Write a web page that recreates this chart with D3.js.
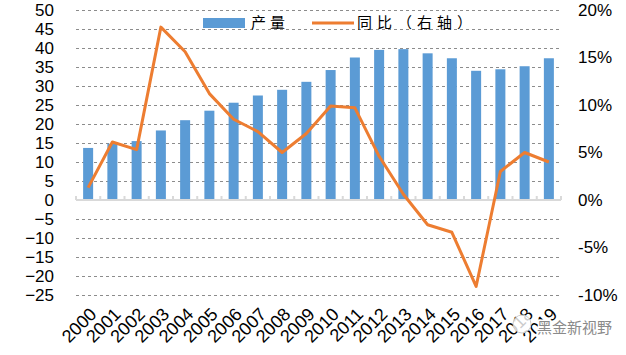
<!DOCTYPE html>
<html><head><meta charset="utf-8">
<script src="https://cdn.jsdelivr.net/npm/d3@7"></script>
<style>
html,body{margin:0;padding:0;background:#fff;}
svg{display:block;font-family:"Liberation Sans",Arial,sans-serif;}
</style></head>
<body>
<svg id="chart" width="626" height="355"></svg>
<script>
const years = ["2000","2001","2002","2003","2004","2005","2006","2007","2008","2009","2010","2011","2012","2013","2014","2015","2016","2017","2018","2019"];
const output = [13.7,14.8,15.5,18.3,21.0,23.5,25.6,27.5,29.0,31.1,34.2,37.5,39.5,39.7,38.6,37.3,34.0,34.4,35.2,37.3];
const yoy = [1.3,6.1,5.3,18.2,15.6,11.2,8.5,7.2,5.0,7.0,9.9,9.7,4.6,0.6,-2.6,-3.4,-9.1,3.0,5.0,4.0];
const leftTicks = [-25,-20,-15,-10,-5,0,5,10,15,20,25,30,35,40,45,50];
const rightTicks = [-10,-5,0,5,10,15,20];
const legendLabels = ["产量","同比（右轴）"];

const svg = d3.select("#chart");
const L = 76, R = 561, T = 10, B = 295;
const x = d3.scaleBand().domain(years).range([L, R]).padding(0);
const yL = d3.scaleLinear().domain([-25, 50]).range([B, T]);
const yR = d3.scaleLinear().domain([-10, 20]).range([B, T]);
const blue = "#5B9BD5", orange = "#ED7D31";

// gridlines
svg.append("g").selectAll("line").data(leftTicks.filter(d => d !== 0)).join("line")
  .attr("x1", L).attr("x2", R)
  .attr("y1", d => Math.round(yL(d)) + 0.5).attr("y2", d => Math.round(yL(d)) + 0.5)
  .attr("stroke", "#8c8c8c").attr("stroke-width", 1).attr("stroke-dasharray", "3,3");

// left axis labels
const axL = d3.axisLeft(yL).tickValues(leftTicks).tickSize(0).tickPadding(0);
const gL = svg.append("g").attr("transform", "translate(54,0)").call(axL);
gL.select(".domain").remove();
gL.selectAll("text").attr("font-size", 17).attr("fill", "#000").attr("font-family", "Liberation Sans, Arial, sans-serif");

// right axis labels
const axR = d3.axisRight(yR).tickValues(rightTicks).tickSize(0).tickPadding(0).tickFormat(d => d + "%");
const gR = svg.append("g").attr("transform", "translate(578,0)").call(axR);
gR.select(".domain").remove();
gR.selectAll("text").attr("font-size", 17).attr("fill", "#000").attr("font-family", "Liberation Sans, Arial, sans-serif");

// bars
svg.append("g").selectAll("rect").data(years).join("rect")
  .attr("x", (d) => x(d) + x.bandwidth() / 2 - 5)
  .attr("width", 10)
  .attr("y", (d, i) => yL(output[i]))
  .attr("height", (d, i) => yL(0) - yL(output[i]))
  .attr("fill", blue);

// zero axis line + ticks
const y0 = yL(0);
svg.append("line").attr("x1", L).attr("x2", R).attr("y1", y0).attr("y2", y0)
  .attr("stroke", "#d9d9d9").attr("stroke-width", 2);
svg.append("g").selectAll("line").data(years.concat(["end"])).join("line")
  .attr("x1", (d, i) => L + i * x.bandwidth()).attr("x2", (d, i) => L + i * x.bandwidth())
  .attr("y1", y0 - 4).attr("y2", y0)
  .attr("stroke", "#d9d9d9").attr("stroke-width", 2);

// line
const line = d3.line().x((d, i) => x(years[i]) + x.bandwidth() / 2).y(d => yR(d));
svg.append("path").datum(yoy).attr("d", line)
  .attr("fill", "none").attr("stroke", orange).attr("stroke-width", 3)
  .attr("stroke-linejoin", "round").attr("stroke-linecap", "butt");

// x labels
svg.append("g").selectAll("text").data(years).join("text")
  .attr("transform", d => `translate(${x(d) + x.bandwidth() / 2 + 5},${311}) rotate(-45)`)
  .attr("text-anchor", "end").attr("dy", "0.35em")
  .attr("font-size", 18).attr("fill", "#000").text(d => d);

// legend
const lg = svg.append("g").attr("font-family", "Noto Sans CJK SC, sans-serif");
lg.append("rect").attr("x", 203).attr("y", 18).attr("width", 42).attr("height", 10).attr("fill", blue);
lg.append("text").attr("x", 251).attr("y", 23).attr("dy", "0.36em").attr("font-size", 15)
  .attr("letter-spacing", 4).attr("fill", "#000").text(legendLabels[0]);
lg.append("line").attr("x1", 312).attr("x2", 354).attr("y1", 23).attr("y2", 23)
  .attr("stroke", orange).attr("stroke-width", 3);
lg.append("text").attr("x", 357).attr("y", 23).attr("dy", "0.36em").attr("font-size", 15)
  .attr("letter-spacing", 5).attr("fill", "#000").text(legendLabels[1]);

// watermark
svg.append("circle").attr("cx", 522).attr("cy", 324).attr("r", 9)
  .attr("fill", "rgba(255,255,255,0.8)").attr("stroke", "#ccc").attr("stroke-width", 1);
svg.append("text").attr("x", 537).attr("y", 328).attr("dy", "0.35em")
  .attr("font-family", "Noto Sans CJK SC, sans-serif").attr("font-size", 15)
  .attr("fill", "#8a8a8a").attr("stroke", "#fff").attr("stroke-width", 3)
  .attr("paint-order", "stroke").text("黑金新视野");
</script>
</body></html>
